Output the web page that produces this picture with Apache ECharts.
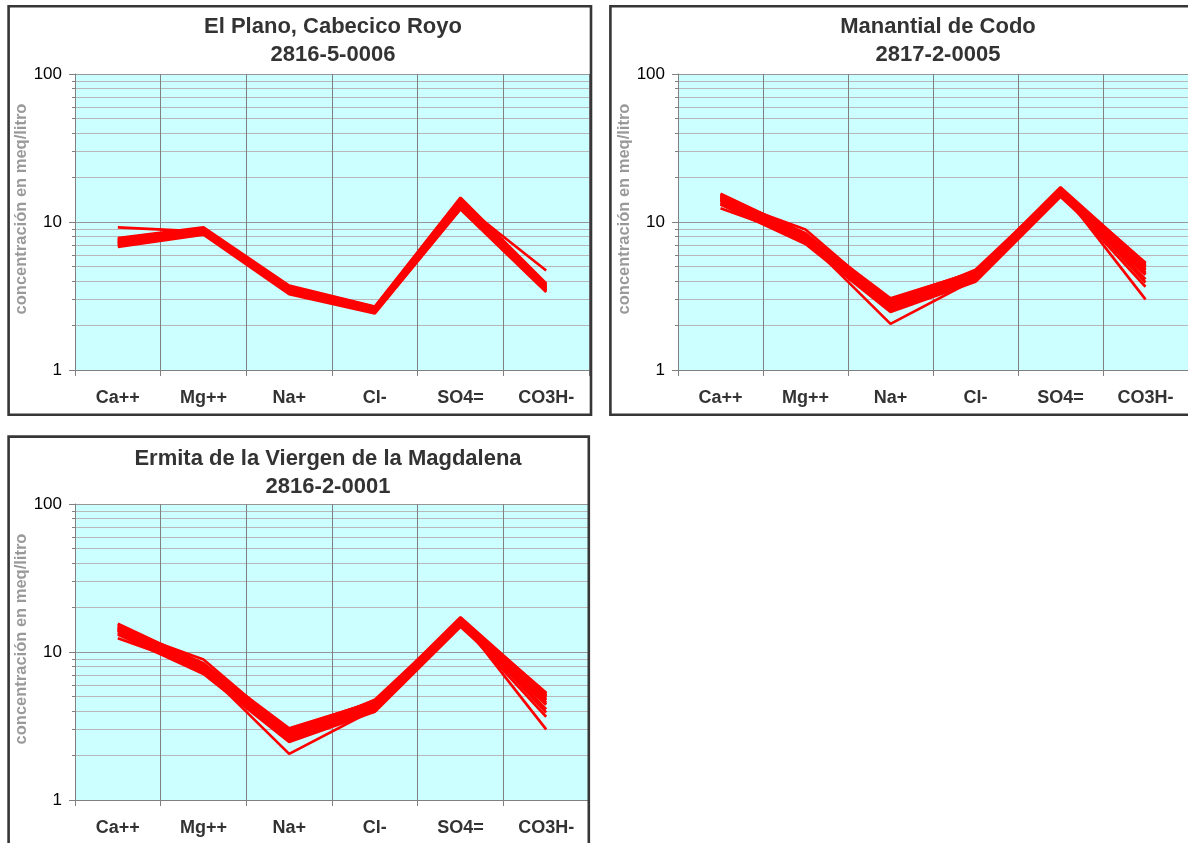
<!DOCTYPE html>
<html>
<head>
<meta charset="utf-8">
<script src="https://cdn.jsdelivr.net/npm/echarts@6/dist/echarts.min.js"></script>
<style>
  html, body { margin: 0; padding: 0; background: #ffffff; }
  #chart { width: 1188px; height: 843px; }
</style>
</head>
<body>
<div id="chart"></div>
<script>
// ---------- data ----------
const categories = ['Ca++', 'Mg++', 'Na+', 'Cl-', 'SO4=', 'CO3H-'];
const yAxisName = 'concentración en meq/litro';

const planoTitle = ['El Plano, Cabecico Royo', '2816-5-0006'];
const codoTitle = ['Manantial de Codo', '2817-2-0005'];
const magdalenaTitle = ['Ermita de la Viergen de la Magdalena', '2816-2-0001'];

// each row: one sample, values for Ca++, Mg++, Na+, Cl-, SO4=, CO3H- (meq/l)
const planoSamples = [
  [6.9, 8.3, 3.30, 2.44, 12.3, 3.40],
  [7.2, 8.6, 3.45, 2.53, 13.1, 3.55],
  [7.5, 9.0, 3.60, 2.62, 14.2, 3.72],
  [6.8, 8.2, 3.25, 2.41, 12.2, 3.36],
  [7.8, 9.2, 3.72, 2.68, 14.6, 3.85],
  [7.3, 8.7, 3.50, 2.55, 13.4, 3.60],
  [7.0, 8.4, 3.38, 2.48, 12.7, 3.46],
  [7.6, 8.9, 3.65, 2.64, 14.0, 3.80],
  [7.2, 8.8, 3.48, 2.52, 13.7, 3.58],
  [7.4, 8.5, 3.42, 2.57, 12.9, 3.50],
  [7.0, 9.0, 3.55, 2.46, 13.9, 3.66],
  [7.7, 8.4, 3.35, 2.60, 12.6, 3.44],
  [7.5, 9.1, 3.68, 2.66, 14.4, 3.76],
  [9.2, 8.6, 3.50, 2.56, 13.3, 3.62],
  [7.3, 8.7, 3.55, 2.59, 13.5, 4.7]
];

const codoSamples = [
  [14.8, 7.9, 2.80, 4.30, 16.0, 5.00],
  [15.4, 8.2, 2.95, 4.55, 16.8, 5.30],
  [14.2, 7.6, 2.70, 4.20, 15.6, 4.80],
  [13.3, 7.2, 2.55, 4.00, 15.0, 4.55],
  [14.5, 7.8, 3.00, 4.65, 16.4, 5.10],
  [13.9, 7.5, 2.65, 4.05, 15.4, 4.70],
  [15.1, 8.4, 2.85, 4.40, 17.0, 4.90],
  [14.0, 7.3, 2.50, 4.15, 15.8, 5.20],
  [14.6, 8.0, 2.75, 4.35, 16.2, 4.45],
  [13.1, 7.1, 2.47, 3.95, 14.8, 4.40],
  [12.4, 7.7, 2.70, 4.25, 15.9, 4.10],
  [14.4, 8.9, 2.85, 4.30, 16.1, 3.90],
  [14.1, 7.6, 2.05, 4.10, 15.5, 3.65],
  [14.7, 7.9, 2.75, 4.75, 16.5, 3.00],
  [13.6, 7.4, 2.60, 4.45, 15.2, 5.05],
  [15.5, 8.3, 3.05, 4.60, 17.2, 5.25]
];

const magdalenaSamples = [
  [14.8, 7.9, 2.80, 4.30, 16.0, 5.00],
  [15.4, 8.2, 2.95, 4.55, 16.8, 5.30],
  [14.2, 7.6, 2.70, 4.20, 15.6, 4.80],
  [13.3, 7.2, 2.55, 4.00, 15.0, 4.55],
  [14.5, 7.8, 3.00, 4.65, 16.4, 5.10],
  [13.9, 7.5, 2.65, 4.05, 15.4, 4.70],
  [15.1, 8.4, 2.85, 4.40, 17.0, 4.90],
  [14.0, 7.3, 2.50, 4.15, 15.8, 5.20],
  [14.6, 8.0, 2.75, 4.35, 16.2, 4.45],
  [13.1, 7.1, 2.47, 3.95, 14.8, 4.40],
  [12.4, 7.7, 2.70, 4.25, 15.9, 4.10],
  [14.4, 8.9, 2.85, 4.30, 16.1, 3.90],
  [14.1, 7.6, 2.05, 4.10, 15.5, 3.65],
  [14.7, 7.9, 2.75, 4.75, 16.5, 3.00],
  [13.6, 7.4, 2.60, 4.45, 15.2, 5.05],
  [15.5, 8.3, 3.05, 4.60, 17.2, 5.25]
];

// ---------- layout ----------
const FONT = 'Liberation Sans, Arial, Helvetica, sans-serif';
const panels = [
  { title: planoTitle, samples: planoSamples,
    grid: { left: 75, top: 74, width: 514, height: 296 }, titleX: 333, titleTop: 13,
    box: { x: 8.6, y: 6.2, width: 582.4, height: 408.6 } },
  { title: codoTitle, samples: codoSamples,
    grid: { left: 678, top: 74, width: 518, height: 296 }, titleX: 938, titleTop: 13,
    box: { x: 610.4, y: 6.2, width: 700, height: 408.6 } },
  { title: magdalenaTitle, samples: magdalenaSamples,
    grid: { left: 75, top: 504, width: 514, height: 296 }, titleX: 328, titleTop: 445,
    box: { x: 8.6, y: 436.6, width: 580.2, height: 500 } }
];

const option = {
  animation: false,
  backgroundColor: '#ffffff',
  textStyle: { fontFamily: FONT },
  title: [],
  grid: [],
  xAxis: [],
  yAxis: [],
  series: [],
  graphic: []
};

panels.forEach(function (p, i) {
  option.title.push({
    text: p.title.join('\n'),
    left: p.titleX,
    top: p.titleTop,
    padding: 0,
    textAlign: 'center',
    textStyle: { fontFamily: FONT, fontSize: 22, fontWeight: 'bold', color: '#333333', lineHeight: 28 }
  });
  option.grid.push(Object.assign({
    show: true, backgroundColor: '#CCFFFF', borderWidth: 0, containLabel: false
  }, p.grid));
  option.xAxis.push({
    type: 'category', gridIndex: i, data: categories, boundaryGap: true,
    axisLine: { show: true, lineStyle: { color: '#808080', width: 1 } },
    axisTick: { show: true, length: 6, lineStyle: { color: '#808080' } },
    axisLabel: { interval: 0, margin: 19, fontFamily: FONT, fontSize: 18, fontWeight: 'bold', color: '#333333' },
    splitLine: { show: true, lineStyle: { color: '#808080', width: 1 } }
  });
  option.yAxis.push({
    type: 'log', logBase: 10, gridIndex: i, min: 1, max: 100,
    name: yAxisName, nameLocation: 'middle', nameGap: 41, nameRotate: 90,
    nameTextStyle: { fontFamily: FONT, fontSize: 16.5, fontWeight: 'bold', color: '#999999', padding: [0, 0, 0, 26] },
    axisLine: { show: true, lineStyle: { color: '#808080', width: 1 } },
    axisTick: { show: true, length: 6, lineStyle: { color: '#808080' } },
    minorTick: { show: true, splitNumber: 9, length: 3, lineStyle: { color: '#808080' } },
    axisLabel: { margin: 13, fontFamily: FONT, fontSize: 17, color: '#000000' },
    splitLine: { show: true, lineStyle: { color: '#969696', width: 1 } },
    minorSplitLine: { show: true, lineStyle: { color: '#b8b8b8', width: 1 } }
  });
  p.samples.forEach(function (row) {
    option.series.push({
      type: 'line', xAxisIndex: i, yAxisIndex: i, data: row,
      symbol: 'none', showSymbol: false, silent: true,
      lineStyle: { color: '#FF0000', width: 2.7 }, z: 5
    });
  });
  option.graphic.push({
    type: 'rect', silent: true, z: 100,
    shape: p.box,
    style: { fill: 'none', stroke: '#363636', lineWidth: 2.6 }
  });
});

const chart = echarts.init(document.getElementById('chart'), null, { renderer: 'canvas' });
chart.setOption(option);
</script>
</body>
</html>
